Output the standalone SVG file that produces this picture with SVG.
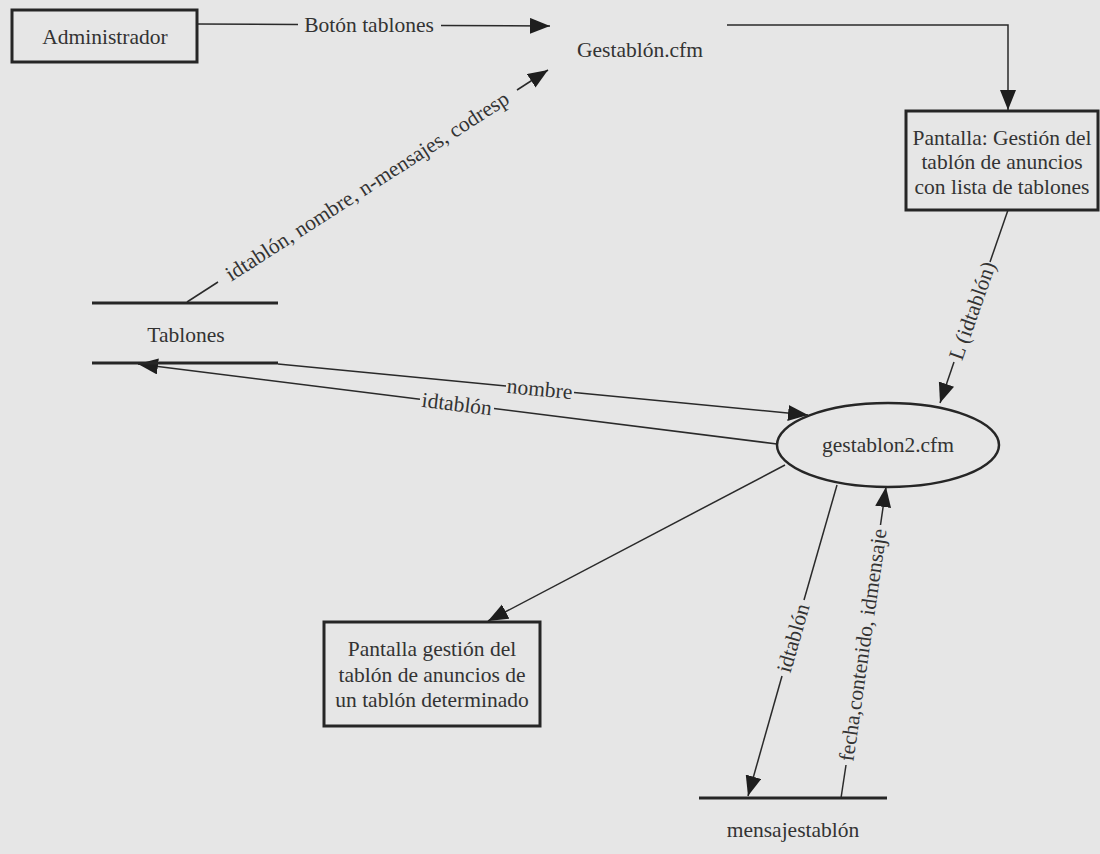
<svg xmlns="http://www.w3.org/2000/svg" width="1100" height="854" viewBox="0 0 1100 854">
  <defs>
    <marker id="arrow" markerUnits="userSpaceOnUse" markerWidth="22" markerHeight="18" refX="20" refY="8" orient="auto">
      <path d="M0,0 L20,8 L0,16 z" fill="#1e1e1e"/>
    </marker>
    <style>
      .bg { fill: #e6e6e6; }
      .box { fill: none; stroke: #262626; stroke-width: 3; }
      .store { stroke: #262626; stroke-width: 3; }
      .proc { fill: none; stroke: #262626; stroke-width: 2.5; }
      .flow { fill: none; stroke: #2a2a2a; stroke-width: 1.5; }
      .arr { marker-end: url(#arrow); }
      text { font-family: "Liberation Serif", "DejaVu Serif", serif; font-size: 21.5px; fill: #333333; text-anchor: middle; }
    </style>
  </defs>

  <rect class="bg" x="0" y="0" width="1100" height="854"/>

  <!-- data flows; each line is cut where its label sits -->
  <g id="connectors">
    <!-- Administrador -> Gestablón.cfm -->
    <line class="flow" x1="197" y1="24" x2="298" y2="24.6"/>
    <line class="flow arr" x1="441" y1="25.4" x2="550" y2="26"/>
    <text x="369" y="32">Botón tablones</text>

    <!-- Gestablón.cfm -> pantalla con lista -->
    <polyline class="flow arr" points="727,25 1008,25 1008,110"/>

    <!-- Tablones -> Gestablón.cfm -->
    <line class="flow" x1="187" y1="302" x2="218" y2="282"/>
    <line class="flow arr" x1="517" y1="90" x2="548" y2="70"/>
    <text transform="translate(371,192) rotate(-32.7)">idtablón, nombre, n-mensajes, codresp</text>

    <!-- pantalla con lista -> gestablon2.cfm -->
    <line class="flow" x1="1008" y1="210" x2="990" y2="262"/>
    <line class="flow arr" x1="954" y1="362" x2="940" y2="403"/>
    <text transform="translate(979,313) rotate(-70.6)">L (idtablón)</text>

    <!-- Tablones -> gestablon2.cfm -->
    <line class="flow" x1="278" y1="364" x2="506" y2="386"/>
    <line class="flow arr" x1="574" y1="392.5" x2="808" y2="415"/>
    <text transform="translate(539,396) rotate(5.5)">nombre</text>

    <!-- gestablon2.cfm -> Tablones -->
    <line class="flow" x1="777" y1="444" x2="494" y2="408.6"/>
    <line class="flow arr" x1="420" y1="399.3" x2="138" y2="364"/>
    <text transform="translate(456,411) rotate(7.1)">idtablón</text>

    <!-- gestablon2.cfm -> pantalla de un tablón -->
    <line class="flow arr" x1="785" y1="465" x2="488" y2="621"/>

    <!-- gestablon2.cfm -> mensajestablón -->
    <line class="flow" x1="837" y1="485" x2="804" y2="600"/>
    <line class="flow arr" x1="782" y1="676" x2="748" y2="796"/>
    <text transform="translate(800,640) rotate(-74)">idtablón</text>

    <!-- mensajestablón -> gestablon2.cfm -->
    <line class="flow" x1="841" y1="798" x2="846" y2="765"/>
    <line class="flow arr" x1="880.5" y1="525" x2="886" y2="487"/>
    <text transform="translate(870,646) rotate(-81.8)">fecha,contenido, idmensaje</text>
  </g>

  <g id="administrador">
    <rect class="box" x="12" y="10" width="185" height="52"/>
    <text x="105" y="44">Administrador</text>
  </g>

  <g id="gestablon">
    <text x="640" y="57">Gestablón.cfm</text>
  </g>

  <g id="pantalla-lista">
    <rect class="box" x="906" y="111" width="192" height="99"/>
    <text x="1002" y="145">Pantalla: Gestión del</text>
    <text x="1002" y="169">tablón de anuncios</text>
    <text x="1002" y="194">con lista de tablones</text>
  </g>

  <g id="tablones">
    <line class="store" x1="92" y1="303" x2="278" y2="303"/>
    <line class="store" x1="92" y1="363" x2="278" y2="363"/>
    <text x="186" y="342">Tablones</text>
  </g>

  <g id="gestablon2">
    <ellipse class="proc" cx="888" cy="445" rx="111" ry="42"/>
    <text x="888" y="452">gestablon2.cfm</text>
  </g>

  <g id="pantalla-tablon">
    <rect class="box" x="324" y="622" width="216" height="104"/>
    <text x="432" y="656">Pantalla gestión del</text>
    <text x="432" y="682">tablón de anuncios de</text>
    <text x="432" y="707">un tablón determinado</text>
  </g>

  <g id="mensajestablon">
    <line class="store" x1="699" y1="798" x2="887" y2="798"/>
    <text x="793" y="837">mensajestablón</text>
  </g>
</svg>
